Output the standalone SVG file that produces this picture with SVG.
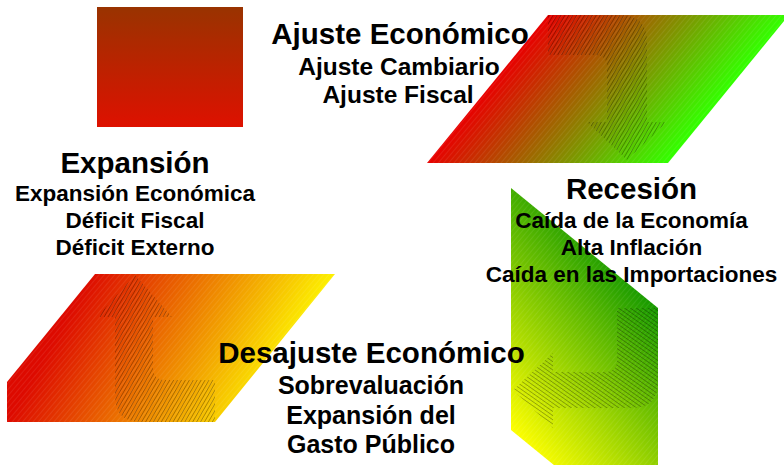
<svg xmlns="http://www.w3.org/2000/svg" width="784" height="465" viewBox="0 0 784 465">
<style>
text{font-family:"Liberation Sans",Arial,sans-serif;font-weight:bold;fill:#000;text-anchor:middle}
.t{font-size:29.5px}
.s1{font-size:24.5px}
.s2{font-size:22.5px}
.s3{font-size:25px}
.hatch{stroke:none}
</style>
<defs>
<linearGradient id="gSq" x1="0" y1="0" x2="0" y2="1">
<stop offset="0" stop-color="#993300"/>
<stop offset="1" stop-color="#de1100"/>
</linearGradient>
<linearGradient id="gTR" gradientUnits="userSpaceOnUse" x1="487.5" y1="89" x2="631" y2="207">
<stop offset="0" stop-color="#e80000"/>
<stop offset="1" stop-color="#33ff00"/>
</linearGradient>
<linearGradient id="gBR" gradientUnits="userSpaceOnUse" x1="658" y1="308" x2="511" y2="431">
<stop offset="0" stop-color="#169a00"/>
<stop offset="1" stop-color="#ffff00"/>
</linearGradient>
<linearGradient id="gBL" gradientUnits="userSpaceOnUse" x1="7" y1="422" x2="205" y2="533">
<stop offset="0" stop-color="#dd0a00"/>
<stop offset="1" stop-color="#ffff00"/>
</linearGradient>
<pattern id="hA" width="3.4" height="10" patternUnits="userSpaceOnUse" patternTransform="rotate(30)">
<rect x="0" y="0" width="0.8" height="10" fill="#000" fill-opacity="0.32"/>
</pattern>
<pattern id="hB" width="3.4" height="10" patternUnits="userSpaceOnUse" patternTransform="rotate(-55)">
<rect x="0" y="0" width="0.8" height="10" fill="#000" fill-opacity="0.32"/>
</pattern>
<pattern id="tex" width="4" height="10" patternUnits="userSpaceOnUse" patternTransform="rotate(40)">
<rect x="0" y="0" width="1" height="10" fill="#fff" fill-opacity="0.08"/>
</pattern>
</defs>

<g id="shape-square">
<rect x="97" y="7" width="146" height="120" fill="url(#gSq)"/>
</g>
<g id="shape-top-right">
<polygon points="548,15 789,15 668,163 427,163" fill="url(#gTR)"/>
<polygon points="548,15 789,15 668,163 427,163" fill="url(#tex)"/>
</g>
<g id="shape-bottom-right">
<polygon points="511,188 658,308 658,550 511,430" fill="url(#gBR)"/>
<polygon points="511,188 658,308 658,550 511,430" fill="url(#tex)"/>
</g>
<g id="shape-bottom-left">
<polygon points="95,274 335,274 215,422 7,422 7,382" fill="url(#gBL)"/>
<polygon points="95,274 335,274 215,422 7,422 7,382" fill="url(#tex)"/>
</g>

<g id="connectors">
<path class="hatch" fill="url(#hA)" d="M548,15 H620 Q647,15 647,42 V122 H667 L627,160 L587,122 H607 V67 Q607,55 595,55 H548 Z"/>
<path class="hatch" fill="url(#hB)" d="M617,308 H658 V382 Q658,408 632,408 H553 V428 L513,390 L553,353 V372 H605 Q617,372 617,360 Z"/>
<path class="hatch" fill="url(#hA)" d="M215,380 V422 H141 Q115,422 115,396 V317 H97 L135,275 L172,317 H153 V368 Q153,380 165,380 Z"/>
</g>

<g id="node-ajuste">
<text class="t" x="400" y="44">Ajuste Económico</text>
<text class="s1" x="399" y="75">Ajuste Cambiario</text>
<text class="s1" x="398" y="103">Ajuste Fiscal</text>
</g>
<g id="node-expansion">
<text class="t" x="135" y="173">Expansión</text>
<text class="s2" x="135" y="201">Expansión Económica</text>
<text class="s2" x="135" y="228">Déficit Fiscal</text>
<text class="s2" x="135" y="255">Déficit Externo</text>
</g>
<g id="node-recesion">
<text class="t" x="631.5" y="199">Recesión</text>
<text class="s2" x="631.5" y="228">Caída de la Economía</text>
<text class="s2" x="631.5" y="255">Alta Inflación</text>
<text class="s2" x="631.5" y="282">Caída en las Importaciones</text>
</g>
<g id="node-desajuste">
<text class="t" x="371.5" y="363">Desajuste Económico</text>
<text class="s3" x="371" y="394">Sobrevaluación</text>
<text class="s3" x="371" y="424">Expansión del</text>
<text class="s3" x="371" y="453">Gasto Público</text>
</g>
</svg>
